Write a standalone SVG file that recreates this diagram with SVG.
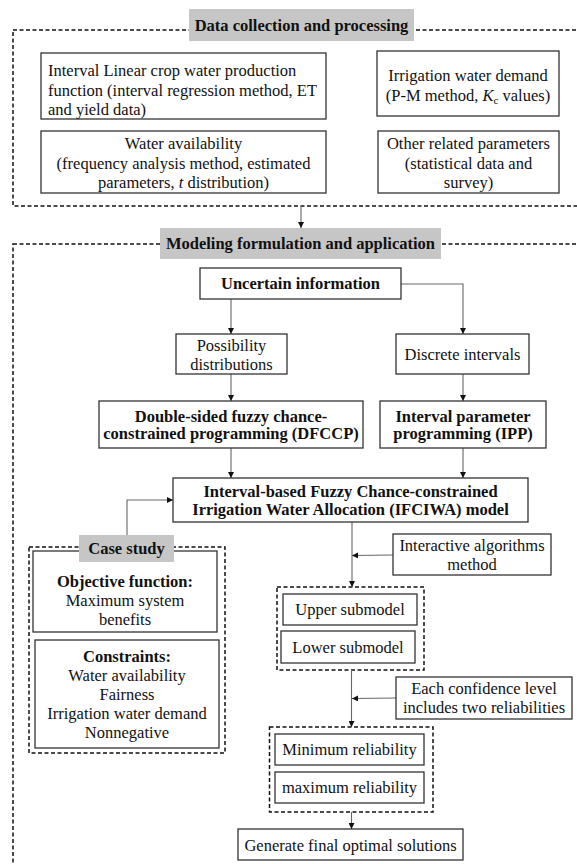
<svg xmlns="http://www.w3.org/2000/svg" width="577" height="864" viewBox="0 0 577 864">
<style>
text{font-family:"Liberation Serif","Times New Roman",serif;font-size:16.5px;fill:#111;}
.c{text-anchor:middle;}
.b{font-weight:bold;}
.box{fill:#fff;stroke:#333;stroke-width:1.3;}
.gray{fill:#c6c6c6;stroke:none;}
.frame{fill:none;stroke:#111;stroke-width:1.5;stroke-dasharray:4 2.5;}
.con{fill:none;stroke:#666;stroke-width:1.1;}
</style>
<defs>
<marker id="ah" viewBox="0 0 8 8" refX="8" refY="4" markerWidth="6" markerHeight="6" markerUnits="userSpaceOnUse" orient="auto">
<path d="M0,0 L8,4 L0,8 z" fill="#111"/>
</marker>
</defs>
<rect width="577" height="864" fill="#fff"/>

<g id="frames">
<rect class="frame" x="13" y="30" width="620" height="176"/>
<rect class="frame" x="13" y="244" width="620" height="700"/>
<rect class="frame" x="29" y="547" width="196" height="206"/>
<rect class="frame" x="277" y="587" width="147" height="83"/>
<rect class="frame" x="269.5" y="727" width="163.5" height="85"/>
</g>

<g id="connectors">
<line class="con" x1="301" y1="206" x2="301" y2="228" marker-end="url(#ah)"/>
<line class="con" x1="231" y1="299" x2="231" y2="334" marker-end="url(#ah)"/>
<path class="con" d="M401,284 H463 V334" marker-end="url(#ah)"/>
<line class="con" x1="231" y1="374" x2="231" y2="401" marker-end="url(#ah)"/>
<line class="con" x1="463" y1="374" x2="463" y2="401" marker-end="url(#ah)"/>
<line class="con" x1="231" y1="448" x2="231" y2="478" marker-end="url(#ah)"/>
<line class="con" x1="463" y1="448" x2="463" y2="478" marker-end="url(#ah)"/>
<path class="con" d="M127,535 V500 H173" marker-end="url(#ah)"/>
<line class="con" x1="352" y1="522" x2="352" y2="587" marker-end="url(#ah)"/>
<line class="con" x1="393" y1="555" x2="352" y2="555.5" marker-end="url(#ah)"/>
<line class="con" x1="351.5" y1="670" x2="351.5" y2="727" marker-end="url(#ah)"/>
<line class="con" x1="396" y1="698" x2="352" y2="698.5" marker-end="url(#ah)"/>
<line class="con" x1="351.5" y1="812" x2="351.5" y2="829" marker-end="url(#ah)"/>
</g>

<g id="title-data">
<rect class="gray" x="189" y="9" width="225" height="32"/>
<text class="c b" x="301.5" y="31">Data collection and processing</text>
</g>

<g id="crop-water">
<rect class="box" x="41" y="53" width="285" height="66"/>
<text x="48" y="76">Interval Linear crop water production</text>
<text x="48" y="95.5">function (interval regression method, ET</text>
<text x="48" y="114.5">and yield data)</text>
</g>

<g id="irrigation-demand">
<rect class="box" x="377" y="51" width="182" height="65"/>
<text class="c" x="468" y="81">Irrigation water demand</text>
<text class="c" x="468" y="101">(P-M  method, <tspan font-style="italic">K</tspan><tspan font-size="11" dy="3">c</tspan><tspan dy="-3"> values)</tspan></text>
</g>

<g id="water-availability">
<rect class="box" x="41" y="131" width="285" height="62"/>
<text class="c" x="183.5" y="149">Water availability</text>
<text class="c" x="183.5" y="169">(frequency analysis method, estimated</text>
<text class="c" x="183.5" y="188">parameters, <tspan font-style="italic">t</tspan> distribution)</text>
</g>

<g id="other-params">
<rect class="box" x="378" y="131" width="181" height="62"/>
<text class="c" x="468.5" y="149">Other related parameters</text>
<text class="c" x="468.5" y="169">(statistical data and</text>
<text class="c" x="468.5" y="188">survey)</text>
</g>

<g id="title-modeling">
<rect class="gray" x="160" y="228" width="281" height="31"/>
<text class="c b" x="300.5" y="249">Modeling formulation and application</text>
</g>

<g id="uncertain">
<rect class="box" x="200" y="268" width="201" height="31"/>
<text class="c b" x="300.5" y="289">Uncertain information</text>
</g>

<g id="possibility">
<rect class="box" x="176" y="334" width="111" height="40"/>
<text class="c" x="231.5" y="351">Possibility</text>
<text class="c" x="231.5" y="370">distributions</text>
</g>

<g id="discrete">
<rect class="box" x="396" y="334" width="133" height="40"/>
<text class="c" x="462.5" y="360">Discrete intervals</text>
</g>

<g id="dfccp">
<rect class="box" x="99" y="401" width="264" height="47"/>
<text class="c b" x="231" y="421.5">Double-sided fuzzy chance-</text>
<text class="c b" x="231" y="439">constrained programming (DFCCP)</text>
</g>

<g id="ipp">
<rect class="box" x="380" y="401" width="166" height="47"/>
<text class="c b" x="463" y="421.5">Interval parameter</text>
<text class="c b" x="463" y="439">programming (IPP)</text>
</g>

<g id="ifciwa">
<rect class="box" x="173" y="478" width="355" height="44"/>
<text class="c b" x="350.5" y="496.5">Interval-based Fuzzy Chance-constrained</text>
<text class="c b" x="350.5" y="515">Irrigation Water Allocation (IFCIWA) model</text>
</g>

<g id="objective">
<rect class="box" x="33" y="551" width="184" height="81"/>
<text class="c b" x="125" y="587">Objective function:</text>
<text class="c" x="125" y="606">Maximum system</text>
<text class="c" x="125" y="625">benefits</text>
</g>

<g id="constraints">
<rect class="box" x="35" y="640" width="184" height="108"/>
<text class="c b" x="127" y="662">Constraints:</text>
<text class="c" x="127" y="680.5">Water availability</text>
<text class="c" x="127" y="699.5">Fairness</text>
<text class="c" x="127" y="718.5">Irrigation water demand</text>
<text class="c" x="127" y="737.5">Nonnegative</text>
</g>

<g id="case-study">
<rect class="gray" x="79" y="535" width="95" height="27"/>
<text class="c b" x="126.5" y="554">Case study</text>
</g>

<g id="interactive">
<rect class="box" x="393" y="534" width="158" height="41"/>
<text class="c" x="472" y="551">Interactive algorithms</text>
<text class="c" x="472" y="569.5">method</text>
</g>

<g id="upper">
<rect class="box" x="283" y="594" width="134" height="31"/>
<text class="c" x="350" y="615">Upper submodel</text>
</g>

<g id="lower">
<rect class="box" x="281" y="631" width="134" height="32"/>
<text class="c" x="348" y="652.5">Lower submodel</text>
</g>

<g id="confidence">
<rect class="box" x="396" y="677" width="176" height="42"/>
<text class="c" x="484" y="694">Each confidence level</text>
<text class="c" x="484" y="713">includes two reliabilities</text>
</g>

<g id="min-rel">
<rect class="box" x="275" y="734" width="149" height="31"/>
<text class="c" x="349.5" y="755">Minimum reliability</text>
</g>

<g id="max-rel">
<rect class="box" x="275" y="772" width="149" height="31"/>
<text class="c" x="349.5" y="793">maximum reliability</text>
</g>

<g id="generate">
<rect class="box" x="238" y="829" width="225" height="31"/>
<text class="c" x="350.5" y="850.5">Generate final optimal solutions</text>
</g>
</svg>
